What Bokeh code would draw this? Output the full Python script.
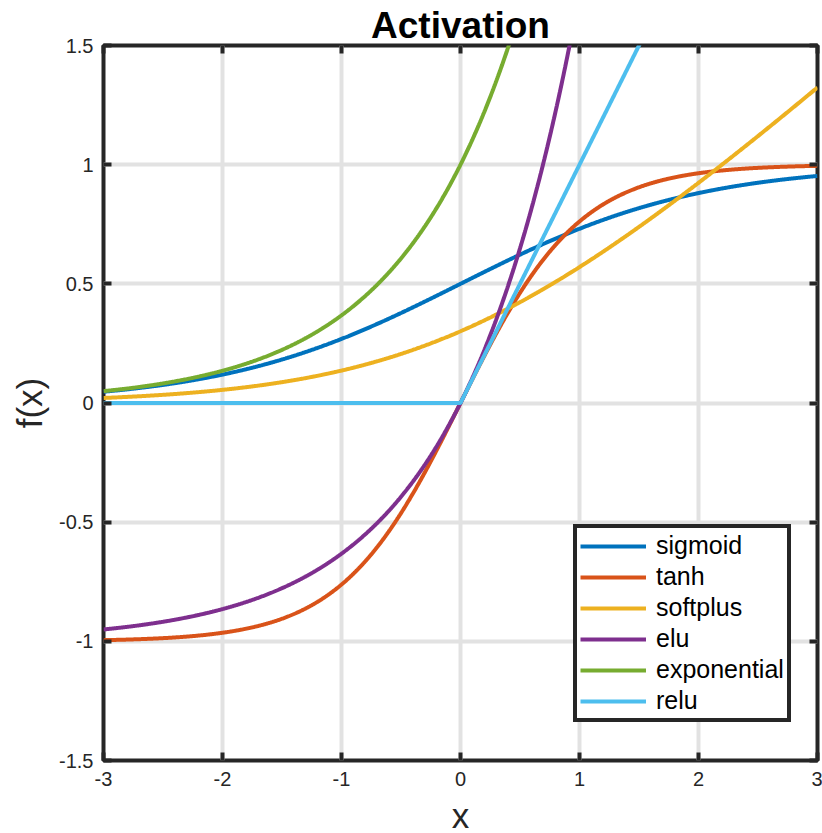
import numpy as np
from bokeh.plotting import figure
from bokeh.models import Range1d, FixedTicker, LinearAxis, Legend, LegendItem
from bokeh.embed import file_html
from bokeh.resources import INLINE

# Sample grid and the activation functions evaluated on it
x_grid = np.linspace(-3, 3, 1201)

sigmoid = 1.0 / (1.0 + np.exp(-x_grid))
tanh = np.tanh(x_grid)
softplus = np.log10(1.0 + np.exp(x_grid))
elu = np.exp(x_grid) - 1.0
exponential = np.exp(x_grid)
relu = np.maximum(0.0, x_grid)

series_names = ["sigmoid", "tanh", "softplus", "elu", "exponential", "relu"]
series_values = [sigmoid, tanh, softplus, elu, exponential, relu]
series_colors = ["#0072BD", "#D95319", "#EDB120", "#7E2F8E", "#77AC30", "#4DBEEE"]

x_ticks = [-3, -2, -1, 0, 1, 2, 3]
x_tick_labels = ["-3", "-2", "-1", "0", "1", "2", "3"]
y_ticks = [-1.5, -1, -0.5, 0, 0.5, 1, 1.5]
y_tick_labels = ["-1.5", "-1", "-0.5", "0", "0.5", "1", "1.5"]

FONT = "Liberation Sans"
DARK = "#262626"

p = figure(
    frame_width=714, frame_height=715,
    min_border_left=103, min_border_right=5,
    min_border_top=45, min_border_bottom=73,
    x_range=Range1d(-3, 3), y_range=Range1d(-1.5, 1.5),
    output_backend="svg", toolbar_location=None,
    title="Activation",
)

p.title.text_font = FONT
p.title.text_font_size = "37px"
p.title.text_font_style = "bold"
p.title.text_color = "#000000"
p.title.align = "center"
p.title.standoff = 0

p.outline_line_color = DARK
p.outline_line_width = 4

def style_axis(ax, ticks, labels, show_labels=True):
    ax.ticker = FixedTicker(ticks=ticks)
    ax.major_label_overrides = {t: l for t, l in zip(ticks, labels)}
    ax.minor_tick_line_color = None
    ax.major_tick_in = 8
    ax.major_tick_out = 0
    ax.major_tick_line_color = DARK
    ax.major_tick_line_width = 4
    ax.axis_line_color = None
    ax.major_label_text_font = FONT
    ax.major_label_text_color = DARK
    if show_labels:
        ax.major_label_text_font_size = "20px"
        ax.major_label_standoff = 10
    else:
        ax.major_label_text_font_size = "0px"
        ax.major_label_text_color = None
        ax.major_label_standoff = 0

xa = p.xaxis[0]
ya = p.yaxis[0]
style_axis(xa, x_ticks, x_tick_labels)
style_axis(ya, y_ticks, y_tick_labels)
xa.major_label_standoff = 11

xa.axis_label = "x"
ya.axis_label = "f(x)"
for ax in (xa, ya):
    ax.axis_label_text_font = FONT
    ax.axis_label_text_font_size = "35px"
    ax.axis_label_text_font_style = "normal"
    ax.axis_label_text_color = DARK
xa.axis_label_standoff = 7
ya.axis_label_standoff = 7

top_axis = LinearAxis()
right_axis = LinearAxis()
style_axis(top_axis, x_ticks, x_tick_labels, show_labels=False)
style_axis(right_axis, y_ticks, y_tick_labels, show_labels=False)
p.add_layout(top_axis, "above")
p.add_layout(right_axis, "right")

p.xgrid.ticker = FixedTicker(ticks=x_ticks)
p.ygrid.ticker = FixedTicker(ticks=y_ticks)
for g in (p.xgrid[0], p.ygrid[0]):
    g.grid_line_color = "#e2e2e2"
    g.grid_line_width = 4

items = []
for name, vals, color in zip(series_names, series_values, series_colors):
    r = p.line(x_grid, vals, line_color=color, line_width=4)
    items.append(LegendItem(label=name, renderers=[r]))

legend = Legend(
    items=items,
    location=(470, 38),
    label_text_font=FONT,
    label_text_font_size="25px",
    label_text_color="#000000",
    glyph_width=66,
    glyph_height=28,
    label_height=28,
    label_standoff=10,
    spacing=2,
    padding=3,
    margin=0,
    border_line_color=DARK,
    border_line_width=4,
    border_line_alpha=1.0,
    background_fill_color="#ffffff",
    background_fill_alpha=1.0,
)
p.add_layout(legend, "center")

open("out.html", "w").write(file_html(p, INLINE))
